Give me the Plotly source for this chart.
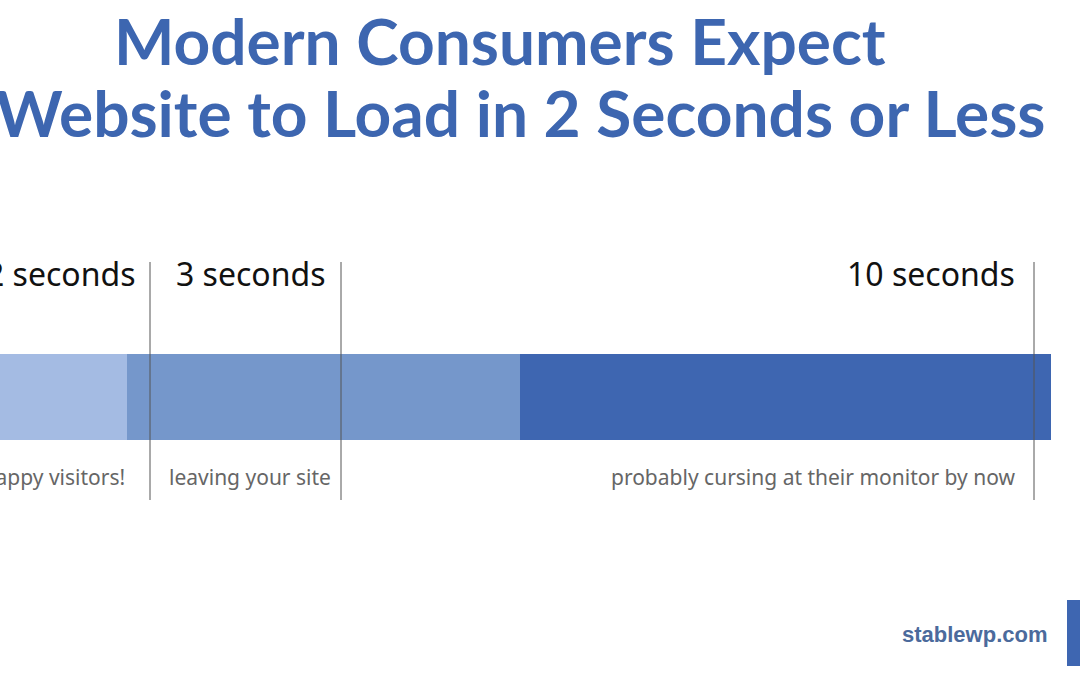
import plotly.graph_objects as go

seg_labels = ["fast", "slow", "very slow"]
seg_start = [-20, 127, 520]
seg_end = [127, 520, 1051]
seg_colors = ["#a4bbe3", "#7597cb", "#3e66b1"]
marker_x = [150, 341, 1034]
marker_text = ["2 seconds", "3 seconds", "10 seconds"]
marker_text_x = [138, 328, 1017]
sub_text = ["Happy visitors!", "leaving your site", "probably cursing at their monitor by now"]
sub_text_x = [127, 333, 1017]

fig = go.Figure()
for s, e, c, n in zip(seg_start, seg_end, seg_colors, seg_labels):
    fig.add_trace(go.Bar(y=[397], x=[e - s], base=[s], orientation="h", width=86,
                         marker=dict(color=c, line=dict(width=0)), name=n, hoverinfo="skip"))
for mx in marker_x:
    fig.add_trace(go.Scatter(x=[mx, mx], y=[262, 500], mode="lines",
                             line=dict(color="#555555", width=1), hoverinfo="skip"))
ann = []
for t, tx in zip(marker_text, marker_text_x):
    ann.append(dict(x=tx, y=273, text=t, xanchor="right", yanchor="middle", showarrow=False,
                    font=dict(family="Noto Sans", size=32, color="#111111")))
for t, tx in zip(sub_text, sub_text_x):
    ann.append(dict(x=tx, y=477, text=t, xanchor="right", yanchor="middle", showarrow=False,
                    font=dict(family="Noto Sans", size=21, color="#666666")))
ann.append(dict(x=500, y=40, text="Modern Consumers Expect", showarrow=False, xanchor="center",
                yanchor="middle", font=dict(family="Lato", size=64, color="#3d66b0", weight="bold")))
ann.append(dict(x=1047, y=112, text="a Website to Load in 2 Seconds or Less", showarrow=False, xanchor="right",
                yanchor="middle", font=dict(family="Lato", size=64, color="#3d66b0", weight="bold")))
ann.append(dict(x=1049, y=634, text="stablewp.com", showarrow=False, xanchor="right", yanchor="middle",
                font=dict(family="Liberation Sans", size=22, color="#4b6a9c", weight="bold")))
fig.update_layout(
    width=1080, height=675, margin=dict(l=0, r=0, t=0, b=0),
    plot_bgcolor="white", paper_bgcolor="white", showlegend=False, barmode="overlay",
    xaxis=dict(range=[0, 1080], visible=False, fixedrange=True),
    yaxis=dict(range=[675, 0], visible=False, fixedrange=True),
    annotations=ann,
    shapes=[dict(type="rect", x0=1067, x1=1085, y0=600, y1=666, fillcolor="#3e66b1", line=dict(width=0))],
)
fig.write_html("out.html", post_script="document.body.style.margin='0';",
               config={"displayModeBar": False})
